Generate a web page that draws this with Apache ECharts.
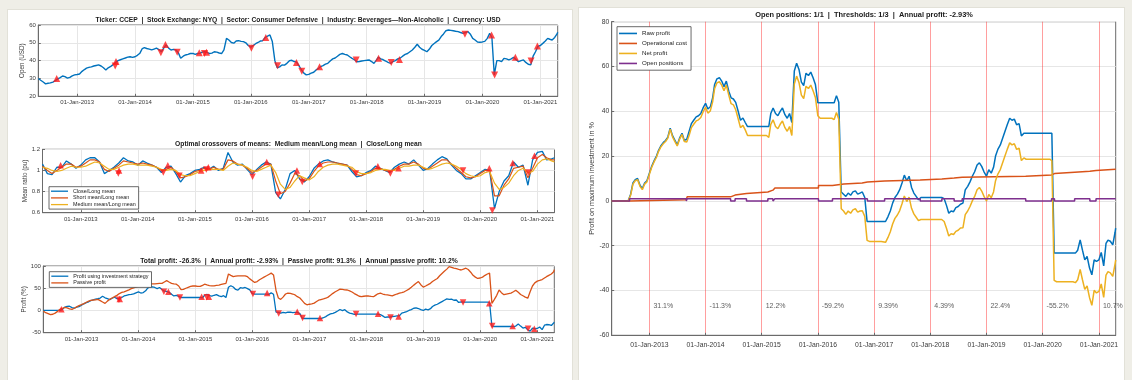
<!DOCTYPE html>
<html><head><meta charset="utf-8">
<script src="https://cdn.jsdelivr.net/npm/echarts@6/dist/echarts.min.js"></script>
<style>
html,body{margin:0;padding:0;background:#efeee7;width:1132px;height:380px;overflow:hidden;position:relative;}
.panel{position:absolute;background:#fff;border:1px solid #e2e1d8;}
#c{position:absolute;left:0;top:0;width:1132px;height:380px;}
</style>
</head><body>
<div class="panel" style="left:7px;top:9px;width:564px;height:380px;"></div>
<div class="panel" style="left:578px;top:7px;width:545px;height:380px;"></div>
<div id="c"></div>
<script>
// ---------- DATA ----------
// monthly samples (1st of month) and half-month samples (1st & 16th) from May 2012, plus the last sample
const firstSample = [2012, 4];           // year, month index (May 2012)
const monthCount = 108;
const halfMonthCount = 216;
const lastSample = '2021-04-20';
const yearTicks = ['2013-01-01','2014-01-01','2015-01-01','2016-01-01','2017-01-01','2018-01-01','2019-01-01','2020-01-01','2021-01-01'];

// half-monthly open price (USD)
const openPrice = [
 30,29,28,27,27.3,27.5,28,28.8,
 29.8,30.5,31.4,31,30.2,30.6,31.5,32,
 32.2,32.5,34,35,35.8,36.2,36.5,37,
 37.3,37.6,37,36,34.8,36,36.8,37.8,
 39,40,40.5,41,41.5,42,42.2,41.8,
 42.2,43,44.2,46.8,47.3,46.8,46.5,46,
 46.5,47,46.2,45,47,48.8,47,46,
 46.3,46,44.5,41.3,42.5,43.2,43.5,44,
 44.1,43.5,44,44.2,44.8,45,44.6,44,
 44.2,45,44.8,44.3,44,46,52.5,51.6,
 50.2,49.8,51,51.2,50.8,50.7,50,48.5,
 47.5,48.5,49.5,50.2,51,51.2,53,53.8,
 54.4,50.7,40,36,36.5,37.6,37.5,38.5,
 40,40.2,39.5,39.2,37,34.8,33,32,
 32.3,33,33.5,34.8,35.5,36.6,37.2,38,
 38.5,39.8,41,41.5,42.5,43.5,44,43.5,
 43.2,42.2,41.3,40.5,39.4,39.5,39.8,40,
 40.2,40.4,39.5,38.5,40,41.9,41,40.5,
 39.8,39,38.5,39.5,40,41,41.5,42.5,
 43.5,44,45,46,47.5,49.2,47.5,46.4,
 45.8,45,46.5,48.5,49.5,50.5,51.5,53.5,
 55,56.8,57.2,57,56.8,56.5,56.3,55.8,
 55.3,55.8,56.3,55,52.5,51.6,50.5,50.3,
 50.5,50.8,52.5,55.3,53,32,40,40,
 39.4,41.3,41,40.4,41,41.9,40.5,39.4,
 40,40.4,39,38,37.6,42.5,45,48,
 48.5,49.7,51,52.5,52,51.6,53,55,
 55.9];

// monthly mean ratios (pu)
const closeLongMean = [
 1.06,0.97,0.96,1.03,1.03,1.09,1.06,1.02,
 1.05,1.10,1.12,1.12,1.08,0.97,1.0,1.03,
 1.07,1.12,1.09,1.08,1.05,1.09,1.07,1.05,
 1.03,0.98,1.03,1.04,0.97,0.89,0.95,0.97,
 1.0,1.01,1.03,1.01,1.04,1.0,1.02,1.17,
 1.08,1.05,1.06,1.01,0.96,1.01,1.05,1.08,
 1.06,0.79,0.73,0.82,0.97,1.0,0.92,0.89,
 0.94,1.02,1.06,1.09,1.1,1.08,1.07,1.06,
 1.05,0.99,0.94,0.95,0.98,1.0,1.04,1.02,
 1.0,0.98,1.03,1.06,1.08,1.06,1.1,1.05,
 1.0,1.02,1.06,1.1,1.13,1.11,1.05,1.0,
 0.97,0.92,0.92,0.95,0.98,1.01,1.0,0.64,
 0.8,0.9,0.95,1.08,1.03,1.05,0.86,1.1,
 1.17,1.18,1.1,1.11,1.12];

const shortLongMean = [
 1.04,1.0,0.97,1.0,1.03,1.06,1.06,1.03,
 1.04,1.07,1.1,1.1,1.08,1.01,0.99,1.02,
 1.05,1.09,1.08,1.07,1.06,1.07,1.06,1.05,
 1.03,1.0,1.01,1.03,0.99,0.93,0.94,0.96,
 0.99,1.0,1.02,1.01,1.03,1.01,1.01,1.1,
 1.09,1.06,1.05,1.02,0.98,1.0,1.03,1.06,
 1.06,0.9,0.78,0.8,0.88,0.97,0.95,0.9,
 0.92,0.99,1.04,1.07,1.08,1.08,1.07,1.06,
 1.05,1.01,0.96,0.95,0.97,0.99,1.02,1.02,
 1.0,0.99,1.01,1.04,1.06,1.06,1.08,1.06,
 1.02,1.01,1.04,1.07,1.1,1.1,1.06,1.02,
 0.98,0.94,0.93,0.94,0.97,1.0,1.0,0.76,
 0.76,0.86,0.92,1.02,1.03,1.04,0.93,1.02,
 1.12,1.15,1.12,1.1,1.1];

const mediumLongMean = [
 1.03,1.02,1.0,0.99,1.0,1.02,1.04,1.03,
 1.03,1.04,1.06,1.08,1.07,1.04,1.01,1.01,
 1.03,1.05,1.06,1.06,1.05,1.05,1.05,1.04,
 1.03,1.01,1.0,1.01,1.0,0.96,0.95,0.95,
 0.97,0.99,1.0,1.01,1.01,1.01,1.0,1.04,
 1.07,1.06,1.05,1.03,1.0,0.99,1.01,1.03,
 1.05,0.98,0.87,0.82,0.84,0.9,0.95,0.93,
 0.91,0.94,0.99,1.03,1.05,1.06,1.06,1.05,
 1.04,1.03,0.99,0.97,0.97,0.98,1.0,1.01,
 1.01,1.0,1.0,1.02,1.04,1.04,1.05,1.05,
 1.03,1.01,1.02,1.04,1.06,1.07,1.06,1.04,
 1.01,0.97,0.95,0.94,0.95,0.98,0.99,0.88,
 0.82,0.84,0.88,0.95,1.0,1.02,0.98,0.99,
 1.06,1.1,1.11,1.09,1.08];

// half-monthly passive profit (%)
const passiveProfit = [
 -1,-5,-7,-9.5,-8.5,-6,-2,2.5,
 5,7,6,3.5,2.5,5,8,11,
 13,15.5,18.5,21,22.5,23.5,24,25,
 22,19,16,21,25,28,31,34,
 38,40.5,42,44,46.5,49,51,52.5,
 54,57.5,60.5,61,61,60.5,60,60,
 60.5,61,61,64,67,64,61,60,
 59,55,47,47.5,50,52,54,55,
 55,54,54,56.5,59,57.5,56,55.5,
 55.5,56.5,57,58.5,60,61,82,79,
 76,77,78,78,78,78,76,71,
 67,63,65,69,72,75,78,81,
 84,80,45,28,25,30,37,39,
 38.5,37,35,31,28,22,16,12.7,
 14,15,16.5,20,23,24.5,26,27.5,
 30,34,38.5,42,45,48,47.5,46.5,
 46,44,41.5,38,35,32,31,32,
 33,32.5,31.5,31,34,37.5,39,37,
 35.5,35,34,33,35,37,39,40,
 42,45,48,52,57,61,65,58,
 52.5,55,58,61,65,68.5,72,78,
 83,88,93,98.5,97,95,94,92.5,
 91,93,95,92,86,79,75,72,
 73,75,79,82,84,16,25,34,
 46,40,35.5,37,38,39,42,45.5,
 41,36,33,30,27.6,42,55,62,
 66,67.5,69.5,73,76,79,82,87,
 92];

// half-monthly raw profit (% of maximum investment)
const rawProfit = [
 0,0,0,0,0,0,0,0,
 3,8,9.5,10,7,5.5,8,9,
 12.4,15.5,18,20,22.5,24.5,26,27,
 28.5,32.5,29,27,25,28,30.2,27,
 27.5,31,34.5,36,37.5,38,39,41.5,
 43.6,41,42,46,52,54.5,55,53.5,
 51,53.5,49,46,45.5,44,40,36,
 37,35,33.2,33.2,33.2,33.2,33.2,33.2,
 33.2,33.2,33.2,33.2,39,41.5,39,38,
 40,41.5,38.5,36.9,39,35,58,61.5,
 58.5,53,51.5,57,56,57.5,55,52,
 43.8,43.8,43.8,43.8,43.8,43.8,43.8,43.8,
 47,44,4,3,2,3.5,2.5,4,
 4.5,3,3.5,4,1.5,-9.2,-9.2,-9.2,
 -9.2,-9.2,-9.2,-9.2,-9.2,-9.2,-7,-4.5,
 -1,1.5,3,5,8,11.5,9,11,
 6,3.5,2,0.5,1.5,1.5,1.5,1.5,
 1.5,1.5,1.5,1.5,1.5,1.5,1,-2,
 -5.5,-4.5,-4.8,-3,-2.5,-1.5,-1,4.9,
 6.5,8.5,11,13,16,17,15.4,13,
 11,13.9,12.4,15,20,23,25,28,
 31,34,36.9,36,36.5,34,34.5,29,
 30.2,30.2,30.2,30.2,30.2,30.2,30.2,30.2,
 30.2,30.2,30.2,30.2,30.2,-23.3,-23.3,-23.3,
 -23.3,-23.3,-23.3,-23.3,-23.3,-23.3,-23.3,-22,
 -17.4,-22,-26.3,-24.8,-30,-33,-26.3,-27,
 -26.3,-23,-29,-19,-17.5,-18,-19.6,-14,
 -12.2];

// half-monthly net profit = profit using the investment strategy (%)
const netProfit = [
 0,0,0,0,0,0,0,0,
 2.5,7.5,9,9.5,6.5,5,7.5,8.5,
 11.9,15,17.5,19.5,22,24,25.5,26.5,
 28,32,28.5,26.5,24.5,27.5,29.7,26.5,
 26.3,29.2,32.7,34.2,35.7,36.2,37.2,39.7,
 41.8,39.2,40.2,44.2,50.2,52.7,53.2,51.7,
 49.2,51.7,47.2,43.4,42.9,40.7,36.7,32.7,
 33.7,31.7,29.2,29.2,29.2,29.2,29.2,29.2,
 29.2,29.2,29.2,28.4,34.2,36.2,33.2,32.2,
 34.2,35.7,32.7,31.1,33.2,29.2,52.2,55.7,
 52.7,47.2,45.7,51.2,50.2,51.7,49.2,46.2,
 38,36.9,36.9,36.9,36.9,36.9,36.9,36.3,
 39.5,36.5,-3.5,-4.5,-6,-4.5,-5.5,-4,
 -3.5,-5,-4.5,-4.4,-6.9,-17.6,-18.1,-18.1,
 -18.1,-18.1,-18.1,-18.1,-18.1,-18.5,-16.3,-13.8,
 -10.3,-7.8,-6.3,-4.3,-1.3,2.2,-0.3,1.7,
 -3.3,-5.8,-7.3,-8.8,-8.3,-8.3,-8.3,-8.3,
 -8.3,-8.3,-8.3,-8.3,-8.3,-8.3,-9.2,-12.2,
 -15.7,-14.7,-15,-13.6,-13.1,-12.1,-12,-6.1,
 -4.5,-2.5,0,2,5,6,4.4,2,
 0,2.9,1.4,4,9,12,14,17,
 20,23,25.9,25,25.5,23,23.5,18,
 19.2,18.6,18.6,18.6,18.6,18.6,18.6,18.6,
 18.6,18.6,18.6,18.6,18,-35.5,-36.1,-36.1,
 -36.1,-36.1,-36.1,-36.1,-36.1,-36.1,-36.5,-35.2,
 -30.6,-35.2,-39.5,-38,-43.2,-46.6,-39.9,-41.1,
 -40.4,-37.1,-43.1,-33.1,-31.6,-32.1,-33.7,-28.1,
 -26.3];

// trades (up = ▲, down = ▼)
const tradeDates = ['2012-08-25','2013-08-29','2013-09-03','2014-06-13','2014-07-12','2014-09-24','2015-02-10','2015-03-15','2015-03-28','2016-01-05','2016-04-05','2016-06-18','2016-10-15','2016-11-18','2017-03-10','2017-10-27','2018-03-17','2018-06-05','2018-07-27','2019-09-13','2020-02-28','2020-03-18','2020-07-27','2020-11-03','2020-12-13'];
const tradeSide  = ['up','down','up','down','up','down','up','down','up','down','up','down','up','down','up','down','up','down','up','down','up','down','up','down','up'];
const tradePrice = [30,37,39.5,44.5,49,44.7,44.5,44,44.7,47,53,37.2,39,34,36.6,40.4,41.3,38.9,40.7,54.8,54.4,32,41.9,39.8,48.2];
const tradeRatio = [1.05,0.97,1.0,0.98,1.05,0.95,1.0,1.01,1.03,0.94,1.08,0.77,1.0,0.89,1.06,0.97,1.04,0.97,1.02,1.0,1.02,0.62,1.07,0.98,1.14];
const tradeProfit = [3,24,26,42,42,29,31,30,31,37,39,-7,-3,-17,-17,-8,-7.5,-16,-13.5,18,16.4,-35,-35,-41,-41];

// operational cost (step after each date)
const costDates  = ['2012-05-01','2012-08-25','2013-08-29','2013-09-03','2014-06-13','2014-07-12','2014-09-24','2015-02-10','2015-03-15','2015-03-28','2016-01-05','2016-04-05','2016-06-18','2016-10-15','2016-11-18','2017-03-10','2017-10-27','2018-03-17','2018-06-05','2018-07-27','2019-09-13','2020-02-28','2020-03-18','2020-07-27','2020-11-03','2020-12-13','2021-04-20'];
const costValues = [0,0.5,1.2,1.8,2.6,3.3,4.0,4.8,5.3,5.8,6.9,7.5,8.0,8.4,8.9,9.3,9.8,10.2,10.6,11.0,11.6,12.2,12.8,13.2,13.6,14.1,14.1];

// open positions (step after each date)
const positionDates  = ['2012-05-01','2012-08-25','2013-08-29','2013-09-03','2014-06-13','2014-07-12','2014-09-24','2015-02-10','2015-03-15','2015-03-28','2016-01-05','2016-04-05','2016-11-18','2017-03-10','2017-10-27','2018-03-17','2018-06-05','2018-07-27','2019-09-13','2020-02-28','2020-03-18','2020-07-27','2020-11-03','2020-12-13','2021-04-20'];
const positionValues = [0,1,0,1,0,1,0,1,0,1,0,1,0,1,0,1,0,1,0,1,0,1,0,1,1];

// yearly profit annotations (placed at each year start)
const annualLabels = ['31.1%','-11.3%','12.2%','-59.2%','9.39%','4.39%','22.4%','-55.2%','10.7%'];

// ---------- BUILD ----------
const monthDates = [];
for (let i = 0; i < monthCount; i++) monthDates.push(Date.UTC(firstSample[0], firstSample[1] + i, 1));
monthDates.push(Date.parse(lastSample));
const halfDates = [];
for (let i = 0; i < halfMonthCount; i++) halfDates.push(Date.UTC(firstSample[0], firstSample[1] + (i >> 1), (i % 2) ? 16 : 1));
halfDates.push(Date.parse(lastSample));

const xMin = monthDates[0], xMax = monthDates[monthDates.length - 1];
const tickVals = yearTicks.map(s => Date.parse(s));
const pairs = (dates, arr) => dates.map((d, i) => [d, arr[i]]);
const stepPairs = (ds, vs) => ds.map((d, i) => [Date.parse(d), vs[i]]);
const marks = (vals, side) => tradeDates.map((d, i) => [Date.parse(d), vals[i], tradeSide[i]]).filter(p => p[2] === side).map(p => [p[0], p[1]]);

const FONT = '"Liberation Sans", Arial, Helvetica, sans-serif';
const AX = '#6b6b6b', GRIDC = '#e6e6e6', TXT = '#3a3a3a';
const C_BLUE = '#0072BD', C_ORANGE = '#D95319', C_YELLOW = '#EDB120', C_PURPLE = '#7E2F8E';

function xAxisFor(gi, fs, margin, splitColor) {
  return {
    type: 'value', gridIndex: gi, min: xMin, max: xMax,
    axisLine: { show: true, onZero: false, lineStyle: { color: AX, width: 1 } },
    axisTick: { show: true, inside: true, length: 2.5, customValues: tickVals, lineStyle: { color: AX } },
    axisLabel: { customValues: tickVals, fontSize: fs, color: TXT, margin: margin, fontFamily: FONT,
      formatter: v => '01-Jan-' + new Date(v).getUTCFullYear(), hideOverlap: false },
    splitLine: { show: true, lineStyle: { color: splitColor, width: 1 } }
  };
}
function yAxisFor(gi, min, max, interval, name, fs, nameGap, nameFs, fmt) {
  return {
    type: 'value', gridIndex: gi, min, max, interval,
    name, nameLocation: 'middle', nameGap, nameRotate: 90,
    nameTextStyle: { fontSize: nameFs, color: TXT, fontFamily: FONT },
    axisLine: { show: true, lineStyle: { color: AX, width: 1 } },
    axisTick: { show: true, inside: true, length: 2.5, lineStyle: { color: AX } },
    axisLabel: { fontSize: fs, color: TXT, margin: 2.5, fontFamily: FONT, formatter: fmt || (v => String(v)) },
    splitLine: { show: true, lineStyle: { color: GRIDC, width: 1 } }
  };
}
function line(name, gi, data, color, width, extra) {
  return Object.assign({ name, type: 'line', xAxisIndex: gi, yAxisIndex: gi, data, showSymbol: false, symbol: 'none',
    lineStyle: { color, width }, itemStyle: { color }, animation: false, z: 3 }, extra || {});
}
function tri(gi, data, down, size) {
  return { type: 'scatter', xAxisIndex: gi, yAxisIndex: gi, data, symbol: 'triangle', symbolSize: size,
    symbolRotate: down ? 180 : 0, itemStyle: { color: '#ff1a1a' }, animation: false, z: 5 };
}
const titleStyle = fs => ({ fontSize: fs, fontWeight: 'bold', color: '#1a1a1a', fontFamily: FONT });

const option = {
  backgroundColor: 'transparent',
  animation: false,
  textStyle: { fontFamily: FONT },
  title: [
    { text: 'Ticker: CCEP  |  Stock Exchange: NYQ  |  Sector: Consumer Defensive  |  Industry: Beverages\u2014Non-Alcoholic  |  Currency: USD',
      left: 298, top: 16.5, textAlign: 'center', padding: 0, textStyle: titleStyle(6.7) },
    { text: 'Optimal crossovers of means:  Medium mean/Long mean  |  Close/Long mean',
      left: 298.5, top: 140.5, textAlign: 'center', padding: 0, textStyle: titleStyle(6.7) },
    { text: 'Total profit: -26.3%  |  Annual profit: -2.93%  |  Passive profit: 91.3%  |  Annual passive profit: 10.2%',
      left: 299, top: 257.5, textAlign: 'center', padding: 0, textStyle: titleStyle(6.8) },
    { text: 'Open positions: 1/1  |  Thresholds: 1/3  |  Annual profit: -2.93%',
      left: 864, top: 11, textAlign: 'center', padding: 0, textStyle: titleStyle(7.4) }
  ],
  grid: [
    { left: 38.3, top: 25, width: 519.4, height: 71.3, show: true, borderColor: AX, borderWidth: 1 },
    { left: 42.5, top: 149.3, width: 512, height: 63.4, show: true, borderColor: AX, borderWidth: 1 },
    { left: 43.3, top: 266, width: 511, height: 66.7, show: true, borderColor: AX, borderWidth: 1 },
    { left: 611.7, top: 21.7, width: 504, height: 313.6, show: true, borderColor: AX, borderWidth: 1 }
  ],
  xAxis: [
    xAxisFor(0, 6, 3, GRIDC),
    xAxisFor(1, 6, 3.5, GRIDC),
    xAxisFor(2, 6, 3.5, GRIDC),
    xAxisFor(3, 6.8, 6, 'rgba(255,40,40,0.45)')
  ],
  yAxis: [
    yAxisFor(0, 20, 60, 10, 'Open (USD)', 6, 12, 6.3),
    yAxisFor(1, 0.6, 1.2, 0.2, 'Mean ratio (pu)', 6, 11.5, 6.3, v => String(+v.toFixed(1))),
    yAxisFor(2, -50, 100, 50, 'Profit (%)', 6, 14, 6.3),
    yAxisFor(3, -60, 80, 20, 'Profit on maximum investment in %', 6.8, 16, 7.2)
  ],
  legend: [
    { orient: 'vertical', left: 49, top: 186.7, data: ['Close/Long mean', 'Short mean/Long mean', 'Medium mean/Long mean'],
      icon: 'rect', itemWidth: 17, itemHeight: 1.3, itemGap: 0.7, padding: [1.5, 3, 1.5, 2],
      textStyle: { fontSize: 5.4, lineHeight: 6, color: '#222', fontFamily: FONT },
      borderColor: '#444', borderWidth: 0.8, backgroundColor: '#fff', selectedMode: false },
    { orient: 'vertical', left: 49.3, top: 271.7, data: ['Profit using investment strategy', 'Passive profit'],
      icon: 'rect', itemWidth: 17, itemHeight: 1.3, itemGap: 0.7, padding: [1.5, 3, 1.5, 2],
      textStyle: { fontSize: 5.4, lineHeight: 6, color: '#222', fontFamily: FONT },
      borderColor: '#444', borderWidth: 0.8, backgroundColor: '#fff', selectedMode: false },
    { orient: 'vertical', left: 617, top: 26.7, data: ['Raw profit', 'Operational cost', 'Net profit', 'Open positions'],
      icon: 'rect', itemWidth: 18, itemHeight: 1.6, itemGap: 2.5, padding: [3, 4, 3, 2],
      textStyle: { fontSize: 6.2, lineHeight: 7.5, color: '#222', fontFamily: FONT },
      borderColor: '#444', borderWidth: 0.8, backgroundColor: '#fff', selectedMode: false }
  ],
  series: [
    line('Open price', 0, pairs(halfDates, openPrice), C_BLUE, 1.4),
    tri(0, marks(tradePrice, 'up'), false, 7),
    tri(0, marks(tradePrice, 'down'), true, 7),

    line('Close/Long mean', 1, pairs(monthDates, closeLongMean), C_BLUE, 1.3),
    line('Short mean/Long mean', 1, pairs(monthDates, shortLongMean), C_ORANGE, 1.2),
    line('Medium mean/Long mean', 1, pairs(monthDates, mediumLongMean), C_YELLOW, 1.2),
    tri(1, marks(tradeRatio, 'up'), false, 6.5),
    tri(1, marks(tradeRatio, 'down'), true, 6.5),

    line('Profit using investment strategy', 2, pairs(halfDates, netProfit), C_BLUE, 1.3),
    line('Passive profit', 2, pairs(halfDates, passiveProfit), C_ORANGE, 1.3),
    tri(2, marks(tradeProfit, 'up'), false, 6.5),
    tri(2, marks(tradeProfit, 'down'), true, 6.5),

    line('Raw profit', 3, pairs(halfDates, rawProfit), C_BLUE, 1.5),
    line('Operational cost', 3, stepPairs(costDates, costValues), C_ORANGE, 1.5, { step: 'end' }),
    line('Net profit', 3, pairs(halfDates, netProfit), C_YELLOW, 1.5),
    line('Open positions', 3, stepPairs(positionDates, positionValues), C_PURPLE, 1.5, { step: 'end' }),
    { type: 'scatter', xAxisIndex: 3, yAxisIndex: 3, symbolSize: 0, animation: false, silent: true,
      data: tickVals.map((t, i) => ({ value: [t, -47], text: annualLabels[i] })),
      label: { show: true, position: 'right', distance: 4, fontSize: 7, color: '#333', fontFamily: FONT,
        formatter: p => p.data.text } }
  ]
};
const chart = echarts.init(document.getElementById('c'), null, { renderer: 'canvas' });
chart.setOption(option);
</script>
</body></html>
